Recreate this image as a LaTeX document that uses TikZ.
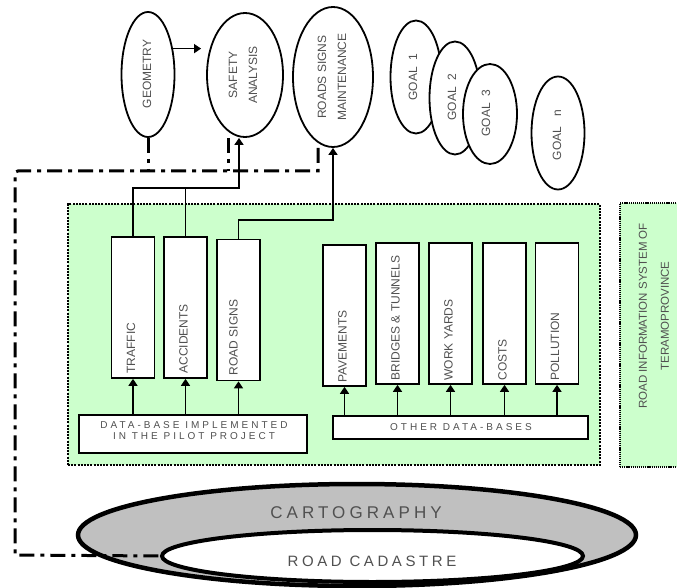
\documentclass[tikz,border=0pt]{standalone}
\usepackage{fontspec}
\setmainfont{Liberation Sans}
\newfontfamily\spacedfont[LetterSpace=30]{Liberation Sans}
\newfontfamily\widefont[LetterSpace=24]{Liberation Sans}
\usetikzlibrary{shapes.geometric,arrows.meta}
\definecolor{lightgreen}{HTML}{CCFFCC}
\definecolor{txtgray}{HTML}{505050}
\definecolor{ringgray}{HTML}{C0C0C0}
\begin{document}
\begin{tikzpicture}[x=1pt,y=-1pt,
  ell/.style={draw,ellipse,line width=1.8pt,fill=white,inner sep=0pt},
  lbl/.style={rotate=90,text=txtgray,font=\fontsize{12}{20}\selectfont,align=center,inner sep=0pt},
  dbox/.style={draw,line width=1.7pt,fill=white,inner sep=0pt,minimum width=43pt,minimum height=141pt},
  blbl/.style={rotate=90,anchor=west,text=txtgray,font=\fontsize{12}{14}\selectfont,inner sep=0pt},
  arr/.style={line width=1.5pt,-{Triangle[width=9pt,length=7pt]}},
  conn/.style={line width=1.5pt},
  dd/.style={line width=3pt,dash pattern=on 15pt off 6pt on 4pt off 6pt},
]
\useasboundingbox (0,0) rectangle (677,588);

% system boxes
\node[draw,fill=lightgreen,line width=2.5pt,dash pattern=on 2pt off 1.2pt,minimum width=532pt,minimum height=261pt,inner sep=0pt] (sys) at (334,334.5) {};
\node[draw,fill=lightgreen,line width=1.2pt,dash pattern=on 1.2pt off 0.9pt,minimum width=65pt,minimum height=264pt,inner sep=0pt] (ris) at (652.5,335) {};
\node[rotate=90,text=txtgray,font=\fontsize{11.5}{22}\selectfont,align=center,inner sep=0pt] (rist) at (654,316) {ROAD INFORMATION SYSTEM OF\\TERAMOPROVINCE};

% top ellipses
\node[ell,minimum width=53pt,minimum height=125pt] (geo) at (148,74.5) {};
\node[lbl] (geot) at (147,74) {GEOMETRY};
\node[ell,minimum width=76pt,minimum height=124pt] (saf) at (245,75) {};
\node[lbl] (saft) at (243,75) {SAFETY\\ANALYSIS};
\node[ell,minimum width=80pt,minimum height=140pt] (rsm) at (333,77) {};
\node[lbl] (rsmt) at (332,77) {ROADS SIGNS\\MAINTENANCE};

\node[ell,minimum width=51pt,minimum height=113pt] (g1) at (416,77) {};
\node[lbl] (g1t) at (413,77) {GOAL\ \ 1};
\node[ell,minimum width=51pt,minimum height=113pt] (g2) at (455,98) {};
\node[lbl] (g2t) at (452,97) {GOAL\ \ 2};
\node[ell,minimum width=54pt,minimum height=100pt] (g3) at (490,114) {};
\node[lbl] (g3t) at (486,113) {GOAL\ \ 3};
\node[ell,minimum width=53pt,minimum height=113pt] (gn) at (558,133) {};
\node[lbl] (gnt) at (557,135) {GOAL\ \ \ n};

\draw[arr] (geo.46) -- ([xshift=-5pt]geo.46 -| saf.west);

% data boxes
\node[dbox] (traffic) at (133,307.5) {};
\node[dbox] (acc) at (185.5,307.5) {};
\node[dbox] (rs) at (238.5,310) {};
\node[dbox] (pav) at (344.5,315.5) {};
\node[dbox] (bri) at (397.5,313.5) {};
\node[dbox] (wy) at (450.5,313.5) {};
\node[dbox] (cos) at (504.5,313.5) {};
\node[dbox] (pol) at (557,313.5) {};

\node[blbl] (traffict) at ([xshift=-2pt,yshift=5pt]traffic.south) {TRAFFIC};
\node[blbl] (acct) at ([xshift=-2pt,yshift=5pt]acc.south) {ACCIDENTS};
\node[blbl] (rst) at ([xshift=-5pt,yshift=6pt]rs.south) {ROAD SIGNS};
\node[blbl] (pavt) at ([xshift=-2pt,yshift=4pt]pav.south) {PAVEMENTS};
\node[blbl] (brit) at ([xshift=-2pt,yshift=4pt]bri.south) {BRIDGES \& TUNNELS};
\node[blbl] (wyt) at ([xshift=-2pt,yshift=4pt]wy.south) {WORK YARDS};
\node[blbl] (cost) at ([xshift=-2pt,yshift=4pt]cos.south) {COSTS};
\node[blbl] (polt) at ([xshift=-2pt,yshift=4pt]pol.south) {POLLUTION};

\node[draw,line width=1.7pt,fill=white,minimum width=228pt,minimum height=38pt,inner sep=0pt] (db) at (193,434) {};
\node[text=txtgray,font=\fontsize{10}{11}\spacedfont,align=center,inner sep=0pt] (dbt) at (194,430.5) {DATA-BASE IMPLEMENTED\\IN THE PILOT PROJECT};
\node[draw,line width=1.7pt,fill=white,minimum width=255pt,minimum height=23pt,inner sep=0pt] (other) at (460.5,427.5) {};
\node[text=txtgray,font=\fontsize{10}{11}\spacedfont,inner sep=0pt] (othert) at (461,427.5) {OTHER DATA-BASES};

\foreach \b in {traffic,acc,rs} \draw[arr] (db.north -| \b.south) -- (\b.south);
\foreach \b in {pav,bri,wy,cos,pol} \draw[arr] (other.north -| \b.south) -- (\b.south);

% solid connectors to the goals
\coordinate (j4) at (239,188);
\coordinate (j5) at (333,220);
\draw[arr] (traffic.north) |- (j4) -- (saf.south -| j4);
\draw[conn] (acc.north) -- (acc.north |- j4);
\draw[arr] (rs.north) |- (j5) -- (rsm.south);

% cartography
\node[draw,ellipse,line width=4.5pt,fill=ringgray,minimum width=558pt,minimum height=102pt,inner sep=0pt] (carto) at (357,535) {};
\node[draw,ellipse,line width=4pt,fill=white,minimum width=421pt,minimum height=52pt,inner sep=0pt] (cad) at (372.5,556) {};
\node[text=txtgray,font=\fontsize{17}{20}\widefont,inner sep=0pt] (cartot) at (356,512.5) {CARTOGRAPHY};
\node[text=txtgray,font=\fontsize{15}{18}\widefont,inner sep=0pt] (cadt) at (372,561.5) {ROAD CADASTRE};

% dash-dot link
\coordinate (d1) at (318,171);
\coordinate (d2) at (15,171);
\coordinate (d3) at (15,555);
\coordinate (d4) at (228,171);
\draw[dd] (rsm.south -| d1) -- (d1) [rounded corners=3pt] -- (d2) [sharp corners] -- (d3) -- (cad.west);
\draw[dd] (geo.south) -- (geo.south |- d1);
\draw[dd] (saf.south -| d4) -- (d4);
\end{tikzpicture}
\end{document}
